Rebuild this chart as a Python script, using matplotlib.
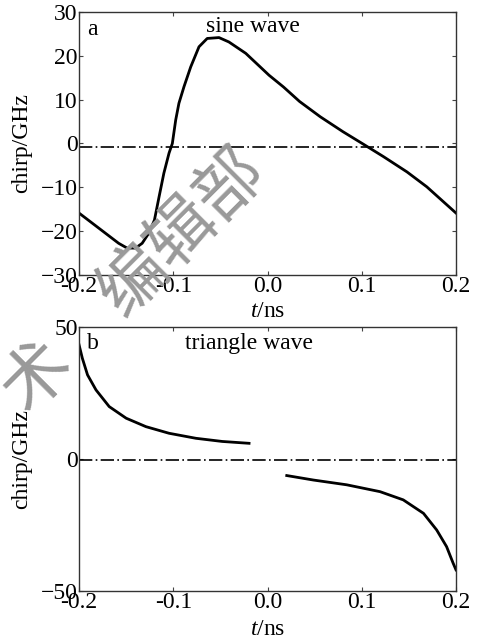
import numpy as np
import matplotlib
matplotlib.use("Agg")
import matplotlib.pyplot as plt

# ---- data ----
# panel a: sine wave modulation
t_sine = [-0.200, -0.186, -0.172, -0.158, -0.149, -0.140, -0.133, -0.126, -0.120,
          -0.115, -0.110, -0.1045, -0.101, -0.0974, -0.094, -0.0886, -0.0815,
          -0.0727, -0.064, -0.0515, -0.041, -0.0231, 0.0016, 0.017, 0.034,
          0.056, 0.080, 0.102, 0.123, 0.148, 0.169, 0.200]
chirp_sine = [-15.9, -18.2, -20.5, -22.8, -23.9, -23.9, -22.8, -20.5, -17.5,
              -12.1, -6.8, -2.2, 0.0, 5.4, 9.2, 13.0, 17.5,
              22.1, 24.0, 24.2, 23.2, 20.6, 15.6, 12.9, 9.6,
              6.1, 2.7, -0.2, -3.0, -6.5, -9.9, -15.9]

# panel b: triangle wave modulation (two branches)
t_tri_up = [-0.200, -0.1965, -0.191, -0.182, -0.168, -0.150, -0.129, -0.1045,
            -0.076, -0.048, -0.0196]
chirp_tri_up = [43.2, 38.1, 31.8, 26.1, 19.8, 15.4, 12.2, 9.7, 7.8, 6.6, 5.9]
t_tri_down = [0.0204, 0.0487, 0.084, 0.1194, 0.144, 0.1655, 0.1795, 0.190, 0.197, 0.200]
chirp_tri_down = [-6.3, -8.0, -9.8, -12.4, -15.5, -20.6, -26.9, -33.2, -39.5, -42.0]

zero_level = [-0.7, -0.4]          # dash-dot reference lines (a, b)
x_ticks = [-0.2, -0.1, 0.0, 0.1, 0.2]
x_ticklabels = ["-0.2", "-0.1", "0.0", "0.1", "0.2"]
y_ticks_a = [-30, -20, -10, 0, 10, 20, 30]
y_ticks_b = [-50, 0, 50]
panel_tags = ["a", "b"]
panel_titles = ["sine wave", "triangle wave"]

plt.rcParams["font.family"] = ["Liberation Serif", "DejaVu Serif"]
plt.rcParams["mathtext.fontset"] = "custom"
plt.rcParams["mathtext.it"] = "Liberation Serif:italic"
plt.rcParams["mathtext.rm"] = "Liberation Serif"

fig = plt.figure(figsize=(4.79, 6.42), dpi=100)
ax1 = fig.add_axes([0.165, 0.572, 0.787, 0.409])
ax2 = fig.add_axes([0.165, 0.0794, 0.787, 0.4116])

fs = 17

def style(ax, yticks, ylim, xlab_y):
    ax.set_xlim(-0.2, 0.2)
    ax.set_ylim(*ylim)
    ax.set_xticks(x_ticks)
    ax.set_xticklabels(x_ticklabels)
    ax.set_yticks(yticks)
    ax.tick_params(direction="in", length=3, width=0.8, top=True, right=True,
                   labelsize=fs, pad=1, color="#444444")
    for s in ax.spines.values():
        s.set_linewidth(1.0)
        s.set_color("#333333")
    ax.set_xlabel("$t$/ns", fontsize=fs)
    ax.set_ylabel("chirp/GHz", fontsize=fs)
    ax.xaxis.set_label_coords(0.5, xlab_y)
    ax.yaxis.set_label_coords(-0.125, 0.5)

# panel a
ax1.plot(t_sine, chirp_sine, color="black", lw=2.0)
ax1.axhline(zero_level[0], color="black", lw=1.2, ls=(0, (8, 2, 1, 2)))
style(ax1, y_ticks_a, (-30, 30), -0.1)
ax1.text(0.022, 0.975, panel_tags[0], transform=ax1.transAxes, fontsize=fs, va="top")
ax1.text(0.46, 0.985, panel_titles[0], transform=ax1.transAxes, fontsize=fs,
         va="top", ha="center")

# panel b
ax2.plot(t_tri_up, chirp_tri_up, color="black", lw=2.0)
ax2.plot(t_tri_down, chirp_tri_down, color="black", lw=2.0)
ax2.axhline(zero_level[1], color="black", lw=1.2, ls=(0, (8, 2, 1, 2)))
style(ax2, y_ticks_b, (-50, 50), -0.105)
ax2.text(0.022, 0.975, panel_tags[1], transform=ax2.transAxes, fontsize=fs, va="top")
ax2.text(0.45, 0.975, panel_titles[1], transform=ax2.transAxes, fontsize=fs,
         va="top", ha="center")

# watermark
fig.text(0.283, 0.56, "术\u3000编辑部", fontsize=49, color="#999999", rotation=45,
         ha="center", va="center", family=["Noto Sans CJK SC", "DejaVu Sans"],
         rotation_mode="anchor", zorder=10)

fig.savefig("out.png", dpi=100)
